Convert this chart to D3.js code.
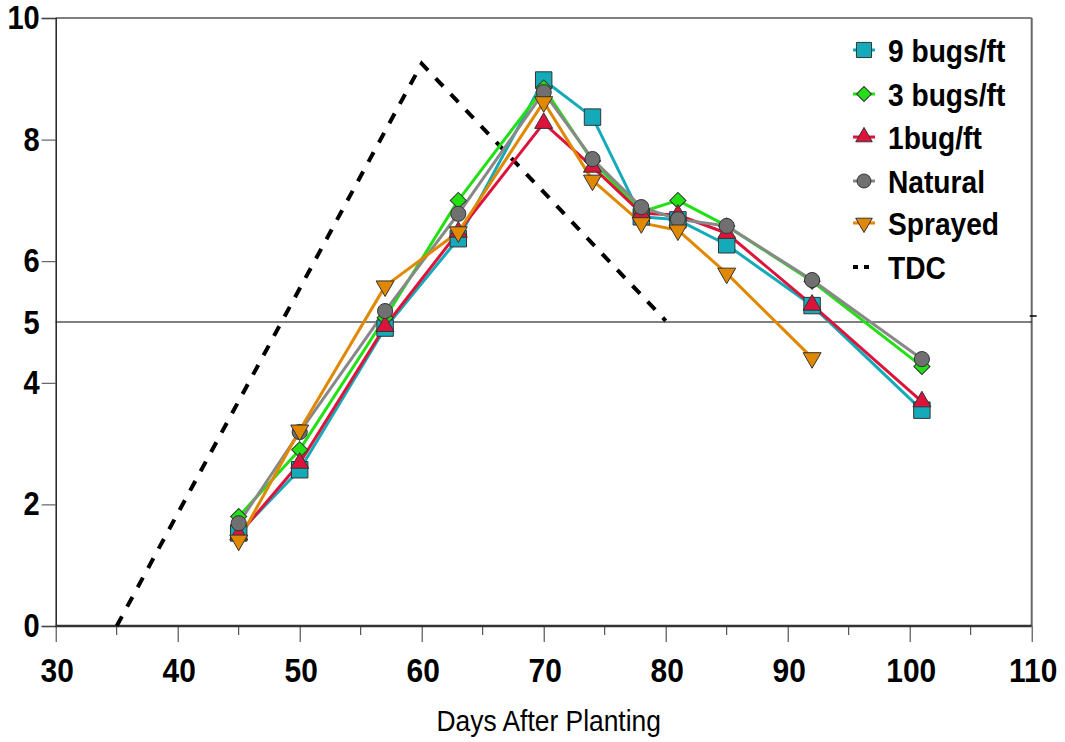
<!DOCTYPE html>
<html>
<head>
<meta charset="utf-8">
<script src="https://cdn.jsdelivr.net/npm/d3@7"></script>
<style>
  body { margin: 0; background: #fff; }
  text { font-family: "Liberation Sans", Arial, sans-serif; }
</style>
</head>
<body>
<script>
// data
var days = [45, 50, 57, 63, 70, 74, 78, 81, 85, 92, 101];
var bugs9 = [1.53, 2.57, 4.9, 6.37, 8.98, 8.37, 6.73, 6.68, 6.27, 5.27, 3.55];
var bugs3 = [1.8, 2.9, 5.07, 7.0, 8.85, 7.65, 6.81, 7.0, 6.58, 5.67, 4.27];
var bugs1 = [1.5, 2.68, 4.93, 6.48, 8.27, 7.55, 6.79, 6.76, 6.46, 5.28, 3.69];
var natural = [1.69, 3.19, 5.18, 6.78, 8.78, 7.68, 6.89, 6.69, 6.58, 5.69, 4.39];
var sprayedDays = [45, 50, 57, 63, 70, 74, 78, 81, 85, 92];
var sprayed = [1.41, 3.22, 5.59, 6.48, 8.62, 7.33, 6.63, 6.51, 5.8, 4.41];
var tdcDays = [35, 60, 80];
var tdc = [0, 9.25, 5.02];
var xTicks = [30, 40, 50, 60, 70, 80, 90, 100, 110];
var xMinor = [35, 45, 55, 65, 75, 85, 95, 105];
var yTicks = [0, 2, 4, 6, 8, 10];
var threshold = 5;

var W = 1065, H = 742;
var x = d3.scaleLinear().domain([30, 110]).range([55.7, 1031.7]);
var y = d3.scaleLinear().domain([0, 10]).range([626, 18]);

// the reference text is a bit narrow and tall: squeeze it sideways
var SQ = 0.88;
function squeeze(sel, px) {
    sel.attr("transform", "scale(" + SQ + ",1)")
        .attr("x", px / SQ);
}

var svg = d3.select("body").append("svg")
    .attr("width", W)
    .attr("height", H);
svg.append("rect").attr("width", W).attr("height", H).attr("fill", "#fff");

// frame: top and right
svg.append("line")
    .attr("x1", x(30)).attr("x2", x(110))
    .attr("y1", y(10)).attr("y2", y(10))
    .attr("stroke", "#000").attr("stroke-width", 1);
svg.append("line")
    .attr("x1", x(110)).attr("x2", x(110))
    .attr("y1", y(10)).attr("y2", y(0))
    .attr("stroke", "#666").attr("stroke-width", 2);

// threshold line at 5
svg.append("line")
    .attr("x1", x(30)).attr("x2", x(110))
    .attr("y1", y(threshold)).attr("y2", y(threshold))
    .attr("stroke", "#000").attr("stroke-width", 1);
svg.append("line")
    .attr("x1", x(110) - 2).attr("x2", x(110) + 5)
    .attr("y1", y(threshold) - 6).attr("y2", y(threshold) - 6)
    .attr("stroke", "#000").attr("stroke-width", 1.5);

// y axis
var yAxis = d3.axisLeft(y).tickValues(yTicks).tickSize(14).tickPadding(3)
    .tickFormat(d3.format("d"));
var gy = svg.append("g")
    .attr("transform", "translate(" + x(30) + ",0)")
    .call(yAxis);
gy.select(".domain").attr("stroke", "#222").attr("stroke-width", 1.5);
gy.selectAll(".tick line").attr("stroke", "#444");
gy.selectAll(".tick text")
    .attr("font-size", 33).attr("font-weight", "bold").attr("fill", "#000")
    .attr("font-family", "Liberation Sans, Arial, sans-serif")
    .call(squeeze, -16);
gy.append("text")
    .text(threshold)
    .attr("y", y(threshold))
    .attr("dy", "0.36em")
    .attr("text-anchor", "end")
    .attr("font-size", 33).attr("font-weight", "bold").attr("fill", "#000")
    .call(squeeze, -16);

// x axis
var xAxis = d3.axisBottom(x).tickValues(xTicks).tickSize(16).tickPadding(16);
var gx = svg.append("g")
    .attr("transform", "translate(0," + y(0) + ")")
    .call(xAxis);
gx.select(".domain").remove();
gx.selectAll(".tick line").attr("stroke", "#333");
gx.selectAll(".tick text")
    .attr("font-size", 34).attr("font-weight", "bold").attr("fill", "#000")
    .attr("font-family", "Liberation Sans, Arial, sans-serif")
    .call(squeeze, 1);
gx.selectAll(".minor")
    .data(xMinor)
    .enter().append("line")
    .attr("x1", d => x(d)).attr("x2", d => x(d))
    .attr("y1", 0).attr("y2", 9)
    .attr("stroke", "#333");
svg.append("line")
    .attr("x1", x(30)).attr("x2", x(110))
    .attr("y1", y(0)).attr("y2", y(0))
    .attr("stroke", "#333").attr("stroke-width", 2.5);

svg.append("text")
    .text("Days After Planting")
    .attr("y", 731)
    .attr("text-anchor", "middle")
    .attr("font-size", 30)
    .attr("fill", "#000")
    .call(squeeze, (x(30) + x(110)) / 2 + 5);

// series
var series = [
    {name: "9 bugs/ft", xs: days, ys: bugs9, color: "#14aab9", sym: d3.symbolSquare, size: 270, rot: 0},
    {name: "3 bugs/ft", xs: days, ys: bugs3, color: "#22e014", sym: d3.symbolSquare, size: 130, rot: 45},
    {name: "1bug/ft", xs: days, ys: bugs1, color: "#dc143c", sym: d3.symbolTriangle, size: 140, rot: 0},
    {name: "Natural", xs: days, ys: natural, color: "#888888", fillM: "#707070", sym: d3.symbolCircle, size: 180, rot: 0},
    {name: "Sprayed", xs: sprayedDays, ys: sprayed, color: "#e08800", sym: d3.symbolTriangle, size: 140, rot: 180}
];

var line = d3.line().x(d => x(d[0])).y(d => y(d[1]));

// TDC dashed
svg.append("path")
    .datum(d3.zip(tdcDays, tdc))
    .attr("d", line)
    .attr("fill", "none")
    .attr("stroke", "#000")
    .attr("stroke-width", 4)
    .attr("stroke-dasharray", "11,11");

series.forEach(function(s) {
    var pts = d3.zip(s.xs, s.ys);
    svg.append("path")
        .datum(pts)
        .attr("d", line)
        .attr("fill", "none")
        .attr("stroke", s.color)
        .attr("stroke-width", 3)
        .attr("stroke-linejoin", "round");
});

series.forEach(function(s) {
    var pts = d3.zip(s.xs, s.ys);
    svg.selectAll(null)
        .data(pts)
        .enter().append("path")
        .attr("d", d3.symbol().type(s.sym).size(s.size))
        .attr("transform", d => "translate(" + x(d[0]) + "," + y(d[1]) + ") rotate(" + s.rot + ")")
        .attr("fill", s.fillM || s.color)
        .attr("stroke", "#333")
        .attr("stroke-width", 1);
});

// legend
var legend = svg.append("g").attr("transform", "translate(853,0)");
var legY = [50, 94, 137, 181, 223, 267];
var items = series.concat([{name: "TDC", color: "#000", dash: true}]);
items.forEach(function(s, i) {
    var g = legend.append("g").attr("transform", "translate(0," + legY[i] + ")");
    if (s.dash) {
        g.append("line")
            .attr("x1", 0).attr("x2", 22).attr("y1", 0).attr("y2", 0)
            .attr("stroke", "#000").attr("stroke-width", 4)
            .attr("stroke-dasharray", "5,6");
    } else {
        g.append("line")
            .attr("x1", 0).attr("x2", 22).attr("y1", 0).attr("y2", 0)
            .attr("stroke", s.color).attr("stroke-width", 3);
        g.append("path")
            .attr("d", d3.symbol().type(s.sym).size(s.size * 0.85))
            .attr("transform", "translate(11,0) rotate(" + s.rot + ")")
            .attr("fill", s.fillM || s.color)
            .attr("stroke", "#333").attr("stroke-width", 1);
    }
    g.append("text")
        .text(s.name)
        .attr("y", 0).attr("dy", "0.36em")
        .attr("font-size", 32).attr("font-weight", "bold").attr("fill", "#000")
        .call(squeeze, 35);
});
</script>
</body>
</html>
